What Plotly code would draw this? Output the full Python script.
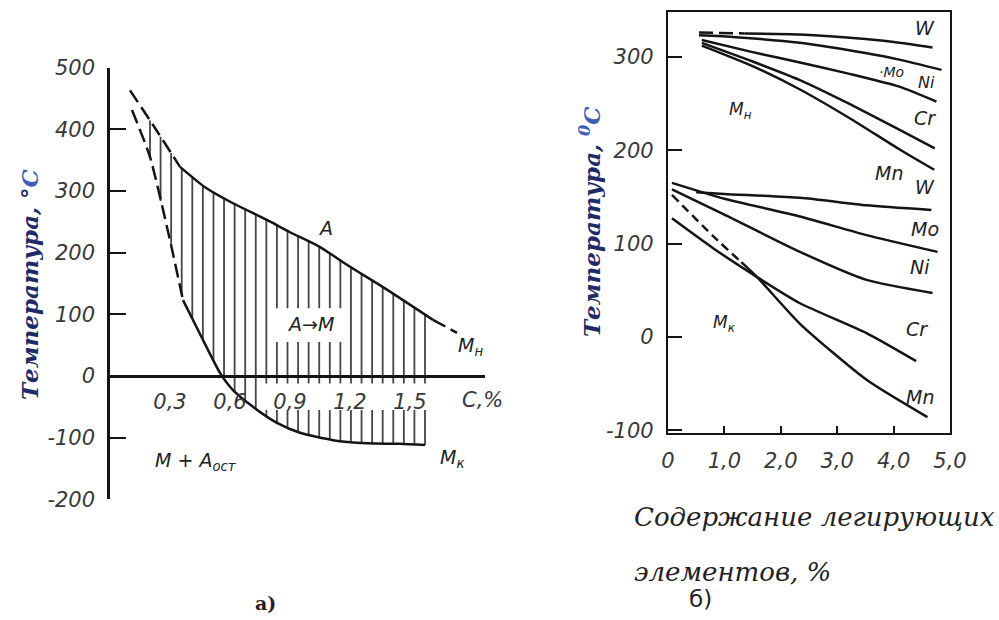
import numpy as np
import plotly.graph_objects as go

# ---------------- panel a): carbon content (%) vs temperature (°C) ----------------
ms_c = [0.10, 0.225, 0.35, 0.475, 0.615, 0.785, 0.90, 1.05, 1.20, 1.365, 1.615, 1.735]
ms_t = [463, 402, 339, 306, 280, 253, 233, 209, 177, 144, 91, 70]
mf_c = [0.11, 0.20, 0.30, 0.365, 0.45, 0.55, 0.615, 0.715, 0.835, 0.95, 1.115, 1.285, 1.45, 1.575]
mf_t = [431, 355, 220, 123, 68, 5, -23, -50, -76, -92, -104, -109, -110, -112]
a_xticks = [0.3, 0.6, 0.9, 1.2, 1.5]
a_xticktext = ["0,3", "0,6", "0,9", "1,2", "1,5"]
a_yticks = [-200, -100, 0, 100, 200, 300, 400, 500]
a_yticktext = ["-200", "-100", "0", "100", "200", "300", "400", "500"]

# ---------------- panel b): alloying element content (%) vs temperature ----------------
ms_w_x = [0.55, 1.36, 2.34, 3.5, 4.1, 4.69]
ms_w_t = [326, 325, 324, 319, 315, 310]
ms_mo_x = [0.55, 1.2, 2.34, 3.5, 4.1, 4.85]
ms_mo_t = [323, 321, 315, 304, 297, 286]
ms_ni_x = [0.6, 1.5, 2.34, 3.2, 4.1, 4.76]
ms_ni_t = [318, 305, 294, 282, 268, 252]
ms_cr_x = [0.6, 1.5, 2.34, 3.2, 4.1, 4.73]
ms_cr_t = [315, 295, 275, 250, 222, 202]
ms_mn_x = [0.6, 1.5, 2.34, 3.2, 4.1, 4.72]
ms_mn_t = [312, 290, 265, 235, 201, 179]

mf_w_x = [0.5, 1.0, 2.34, 3.52, 4.67]
mf_w_t = [155, 153, 149, 141, 136]
mf_mo_x = [0.07, 1.0, 2.34, 3.52, 4.78]
mf_mo_t = [165, 148, 129, 109, 91]
mf_ni_x = [0.07, 1.0, 2.34, 3.52, 4.69]
mf_ni_t = [158, 131, 91, 61, 47]
mf_cr_x = [0.07, 0.8, 1.58, 2.34, 3.52, 4.4]
mf_cr_t = [127, 95, 64, 36, 4, -26]
mf_mn_x = [0.07, 0.8, 1.3, 1.58, 2.34, 3.52, 4.6]
mf_mn_t = [152, 108, 80, 64, 14, -46, -86]

b_xticks = [0, 1, 2, 3, 4, 5]
b_xticktext = ["0", "1,0", "2,0", "3,0", "4,0", "5,0"]
b_yticks = [-100, 0, 100, 200, 300]
b_yticktext = ["-100", "0", "100", "200", "300"]

INK = "#141414"
TICKC = "#383838"
DASH = "14px,6px"
fig = go.Figure()


def line(x, y, xa="x", ya="y", dash="solid", width=2.5, color=INK):
    fig.add_trace(go.Scatter(x=x, y=y, xaxis=xa, yaxis=ya, mode="lines",
                             line=dict(color=color, width=width, dash=dash, shape="spline", smoothing=0.6),
                             hoverinfo="skip", showlegend=False))


# ---- panel a) hatching between Mk and Mn (vertical strokes) ----
hx = np.linspace(0.2, 1.575, 27)
hx_list, hy_list = [], []
for c in hx:
    top = float(np.interp(c, ms_c, ms_t))
    bot = float(np.interp(c, mf_c, mf_t))
    pieces = [(bot, top)]
    # leave room for the "A→M" label
    if 0.8 <= c <= 1.2:
        new = []
        for lo, hi in pieces:
            if lo < 55:
                new.append((lo, min(hi, 55)))
            if hi > 110:
                new.append((max(lo, 110), hi))
        pieces = new
    # leave room for the carbon tick labels under the zero line
    if c >= 0.78:
        new = []
        for lo, hi in pieces:
            if lo < -55:
                new.append((lo, min(hi, -55)))
            if hi > -12:
                new.append((max(lo, -12), hi))
        pieces = new
    for lo, hi in pieces:
        if hi > lo:
            hx_list += [c, c, None]
            hy_list += [lo, hi, None]
fig.add_trace(go.Scatter(x=hx_list, y=hy_list, mode="lines",
                         line=dict(color="#454545", width=1.8), hoverinfo="skip", showlegend=False))

# Mn (start of martensite) curve: dashed ends, solid middle
line(ms_c[0:3], ms_t[0:3], dash=DASH)
line(ms_c[2:11], ms_t[2:11])
line(ms_c[10:12], ms_t[10:12], dash=DASH)
# Mk (end of martensite) curve
line(mf_c[0:4], mf_t[0:4], dash=DASH)
line(mf_c[3:], mf_t[3:])

# ---- panel b) curves ----
line(ms_w_x[0:2], ms_w_t[0:2], "x2", "y2", dash=DASH)
line(ms_w_x[1:], ms_w_t[1:], "x2", "y2")
line(ms_mo_x, ms_mo_t, "x2", "y2")
line(ms_ni_x, ms_ni_t, "x2", "y2")
line(ms_cr_x, ms_cr_t, "x2", "y2")
line(ms_mn_x, ms_mn_t, "x2", "y2")
line(mf_w_x, mf_w_t, "x2", "y2")
line(mf_mo_x, mf_mo_t, "x2", "y2")
line(mf_ni_x, mf_ni_t, "x2", "y2")
line(mf_cr_x, mf_cr_t, "x2", "y2")
line(mf_mn_x[0:3], mf_mn_t[0:3], "x2", "y2", dash="9px,5px")
line(mf_mn_x[2:], mf_mn_t[2:], "x2", "y2")

W, H = 999, 620
tickfont = dict(family="DejaVu Sans", size=21, color=TICKC, style="italic")

fig.update_layout(
    width=W, height=H, margin=dict(l=0, r=0, t=0, b=0, autoexpand=False),
    paper_bgcolor="white", plot_bgcolor="white", showlegend=False,
    xaxis=dict(domain=[110 / W, 485 / W], range=[0, 1.875], anchor="free",
               position=(H - 376) / H, showline=True, linecolor=INK, linewidth=2.5,
               ticks="outside", ticklen=6, tickcolor="rgba(0,0,0,0)",
               tickvals=a_xticks, ticktext=a_xticktext, tickfont=tickfont,
               showgrid=False, zeroline=False, automargin=False),
    yaxis=dict(domain=[120.6 / H, 552.5 / H], range=[-200, 500], anchor="x",
               showline=True, linecolor=INK, linewidth=2.5,
               ticks="inside", ticklen=16, tickwidth=2, tickcolor=INK,
               tickvals=a_yticks, ticktext=a_yticktext, tickfont=tickfont, ticklabelstandoff=8,
               showgrid=False, zeroline=False, automargin=False),
    xaxis2=dict(domain=[668 / W, 950 / W], range=[0, 5.0], anchor="y2",
                showline=True, mirror=True, linecolor=INK, linewidth=2.2,
                ticks="inside", ticklen=7, tickwidth=2, tickcolor=INK,
                tickvals=b_xticks, ticktext=b_xticktext, tickfont=tickfont,
                ticklabelstandoff=8, showgrid=False, zeroline=False, automargin=False),
    yaxis2=dict(domain=[187 / H, 608 / H], range=[-103, 348], anchor="x2",
                showline=True, mirror=True, linecolor=INK, linewidth=2.2,
                ticks="inside", ticklen=14, tickwidth=2, tickcolor=INK,
                tickvals=b_yticks, ticktext=b_yticktext, tickfont=tickfont, ticklabelstandoff=8,
                showgrid=False, zeroline=False, automargin=False),
)

lab = dict(family="DejaVu Sans", size=19, color="#222222", style="italic")
ann = []


def note(text, x, y, xr="x", yr="y", font=lab, xanchor="center", **kw):
    ann.append(dict(text=text, x=x, y=y, xref=xr, yref=yr, showarrow=False, font=font,
                    xanchor=xanchor, yanchor="middle", **kw))


# panel a) labels
note("A", 1.075, 240)
note("A→M", 1.0, 84)
note("M<sub>н</sub>", 1.80, 48)
note("M<sub>к</sub>", 1.71, -133)
note("M + A<sub>ост</sub>", 0.43, -139)
note("C,%", 1.86, -39, font=tickfont)

# panel b) labels
small = dict(lab, size=14)
note("W", 4.56, 331, "x2", "y2")
note("·Mo", 3.97, 284, "x2", "y2", font=small)
note("Ni", 4.58, 272, "x2", "y2", font=dict(lab, size=16))
note("Cr", 4.56, 234, "x2", "y2")
note("Mn", 3.92, 176, "x2", "y2")
note("W", 4.56, 160, "x2", "y2")
note("Mo", 4.56, 116, "x2", "y2")
note("Ni", 4.46, 75, "x2", "y2")
note("Cr", 4.42, 8, "x2", "y2")
note("Mn", 4.46, -64, "x2", "y2")
note("M<sub>н</sub>", 1.28, 242, "x2", "y2", font=dict(lab, size=17))
note("M<sub>к</sub>", 1.0, 14, "x2", "y2", font=dict(lab, size=17))

# axis titles and captions
titlefont = dict(family="DejaVu Serif", size=23, color="#1f2a66", style="italic", weight="bold")
note("Температура, °<span style='color:#3a5fb5'>С</span>", 30 / W, (H - 284) / H, "paper", "paper",
     font=titlefont, textangle=-90)
note("Температура, <span style='color:#3a5fb5'><sup>0</sup>С</span>", 590 / W, (H - 222) / H, "paper", "paper",
     font=titlefont, textangle=-90)
capfont = dict(family="DejaVu Serif", size=26, color="#222222", style="italic")
note("Содержание легирующих", 632 / W, (H - 517) / H, "paper", "paper", font=capfont, xanchor="left")
note("элементов, %", 632 / W, (H - 572) / H, "paper", "paper", font=capfont, xanchor="left")
note("б)", 700 / W, (H - 599) / H, "paper", "paper", font=dict(family="DejaVu Sans", size=23, color="#222"))
note("а)", 265 / W, (H - 603) / H, "paper", "paper", font=dict(family="DejaVu Serif", size=19, color="#222", weight="bold"))

fig.update_layout(annotations=ann)
fig.write_html("out.html", config={"displayModeBar": False},
               post_script="document.body.style.margin='0';document.body.style.overflow='hidden';")
